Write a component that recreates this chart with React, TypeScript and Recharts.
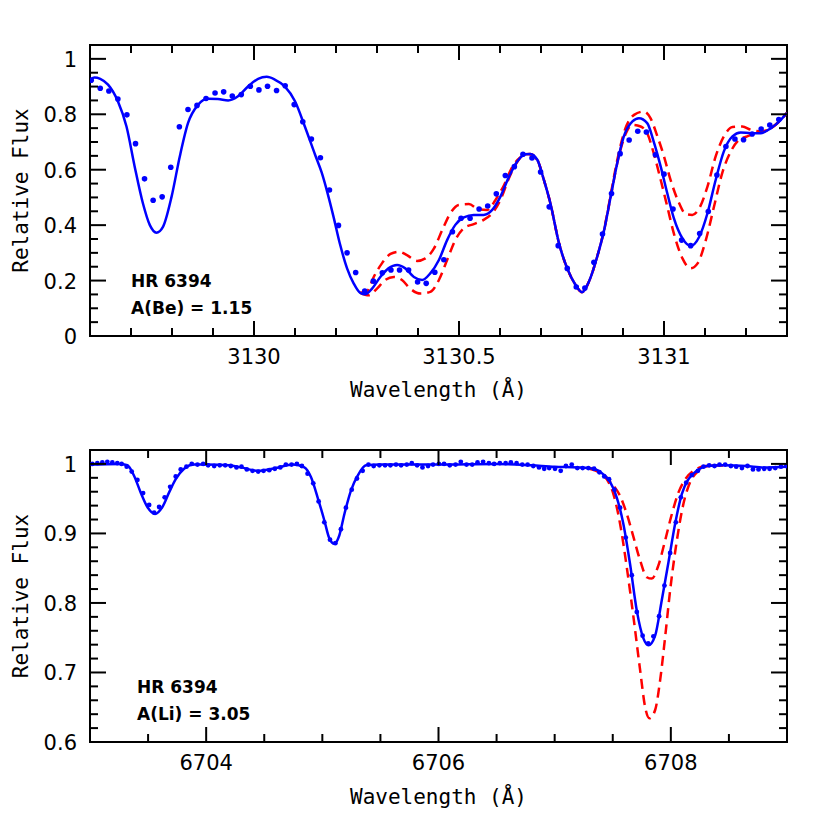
import React from 'react';
import { ComposedChart, Line, Scatter, XAxis, YAxis, ReferenceArea } from 'recharts';

// ---- Be panel (3130 A) ----
const beModel = [
  [3129.600, 0.926], [3129.611, 0.933], [3129.625, 0.928], [3129.644, 0.907], [3129.668, 0.847],
  [3129.689, 0.756], [3129.709, 0.611], [3129.729, 0.479], [3129.746, 0.400], [3129.762, 0.373],
  [3129.778, 0.394], [3129.799, 0.503], [3129.819, 0.648], [3129.839, 0.768], [3129.864, 0.835],
  [3129.888, 0.856], [3129.912, 0.855], [3129.937, 0.850], [3129.961, 0.865], [3129.986, 0.901],
  [3130.010, 0.928], [3130.031, 0.935], [3130.051, 0.925], [3130.075, 0.901], [3130.100, 0.847],
  [3130.124, 0.756], [3130.149, 0.654], [3130.165, 0.590], [3130.180, 0.512], [3130.194, 0.430],
  [3130.210, 0.330], [3130.227, 0.244], [3130.243, 0.190], [3130.259, 0.156], [3130.272, 0.151],
  [3130.288, 0.171], [3130.308, 0.213], [3130.328, 0.244], [3130.349, 0.256], [3130.369, 0.244],
  [3130.390, 0.213], [3130.410, 0.202], [3130.430, 0.226], [3130.451, 0.274], [3130.471, 0.346],
  [3130.491, 0.401], [3130.512, 0.428], [3130.536, 0.437], [3130.560, 0.437], [3130.581, 0.455],
  [3130.601, 0.503], [3130.622, 0.575], [3130.642, 0.630], [3130.662, 0.656], [3130.674, 0.657],
  [3130.691, 0.636], [3130.707, 0.563], [3130.723, 0.478], [3130.744, 0.334], [3130.764, 0.244],
  [3130.784, 0.185], [3130.800, 0.158], [3130.818, 0.200], [3130.837, 0.286], [3130.854, 0.382],
  [3130.870, 0.503], [3130.886, 0.624], [3130.902, 0.720], [3130.923, 0.774], [3130.939, 0.786],
  [3130.959, 0.768], [3130.976, 0.696], [3130.992, 0.611], [3131.008, 0.515], [3131.024, 0.425],
  [3131.045, 0.352], [3131.065, 0.325], [3131.086, 0.358], [3131.106, 0.443], [3131.126, 0.563],
  [3131.146, 0.666], [3131.167, 0.720], [3131.187, 0.734], [3131.212, 0.732], [3131.236, 0.732],
  [3131.261, 0.750], [3131.285, 0.780], [3131.300, 0.805],
];

const beLow = [
  [3130.259, 0.156], [3130.275, 0.160], [3130.292, 0.213], [3130.312, 0.262], [3130.333, 0.296],
  [3130.353, 0.304], [3130.373, 0.292], [3130.398, 0.271], [3130.418, 0.280], [3130.439, 0.316],
  [3130.459, 0.382], [3130.479, 0.443], [3130.499, 0.473], [3130.524, 0.476], [3130.548, 0.457],
  [3130.569, 0.455], [3130.589, 0.491], [3130.610, 0.545], [3130.630, 0.610], [3130.650, 0.645],
  [3130.668, 0.657], [3130.690, 0.637], [3130.707, 0.563], [3130.723, 0.478], [3130.744, 0.334],
  [3130.764, 0.244], [3130.784, 0.185], [3130.800, 0.158], [3130.818, 0.200], [3130.837, 0.286],
  [3130.854, 0.385], [3130.870, 0.510], [3130.886, 0.635], [3130.905, 0.745], [3130.927, 0.798],
  [3130.951, 0.810], [3130.967, 0.786], [3130.984, 0.720], [3131.000, 0.648], [3131.016, 0.563],
  [3131.037, 0.479], [3131.053, 0.440], [3131.069, 0.437], [3131.086, 0.461], [3131.106, 0.539],
  [3131.126, 0.648], [3131.146, 0.720], [3131.167, 0.754], [3131.191, 0.756], [3131.212, 0.744],
  [3131.236, 0.738], [3131.261, 0.750], [3131.285, 0.780], [3131.300, 0.805],
];

const beHigh = [
  [3130.259, 0.156], [3130.280, 0.147], [3130.300, 0.171], [3130.320, 0.202], [3130.341, 0.213],
  [3130.361, 0.202], [3130.381, 0.171], [3130.406, 0.153], [3130.430, 0.159], [3130.451, 0.202],
  [3130.471, 0.274], [3130.491, 0.346], [3130.512, 0.389], [3130.536, 0.404], [3130.560, 0.419],
  [3130.581, 0.443], [3130.601, 0.491], [3130.622, 0.570], [3130.642, 0.628], [3130.662, 0.656],
  [3130.674, 0.657], [3130.691, 0.636], [3130.707, 0.563], [3130.723, 0.478], [3130.744, 0.334],
  [3130.764, 0.244], [3130.784, 0.185], [3130.800, 0.158], [3130.818, 0.200], [3130.837, 0.286],
  [3130.854, 0.382], [3130.870, 0.503], [3130.886, 0.624], [3130.902, 0.712], [3130.923, 0.762],
  [3130.943, 0.756], [3130.959, 0.732], [3130.976, 0.654], [3130.992, 0.563], [3131.008, 0.467],
  [3131.024, 0.370], [3131.045, 0.280], [3131.065, 0.244], [3131.082, 0.262], [3131.102, 0.346],
  [3131.122, 0.467], [3131.142, 0.588], [3131.163, 0.666], [3131.183, 0.708], [3131.203, 0.720],
  [3131.224, 0.732], [3131.245, 0.738], [3131.261, 0.750], [3131.285, 0.780], [3131.300, 0.805],
];

const beObs = [
  [3129.603, 0.923], [3129.625, 0.894], [3129.646, 0.884], [3129.668, 0.855], [3129.690, 0.798],
  [3129.711, 0.694], [3129.733, 0.567], [3129.754, 0.490], [3129.776, 0.502], [3129.797, 0.609],
  [3129.818, 0.755], [3129.839, 0.817], [3129.861, 0.832], [3129.883, 0.857], [3129.905, 0.877],
  [3129.926, 0.881], [3129.947, 0.866], [3129.969, 0.871], [3129.991, 0.901], [3130.012, 0.888],
  [3130.033, 0.901], [3130.055, 0.886], [3130.076, 0.903], [3130.098, 0.835], [3130.119, 0.773],
  [3130.140, 0.711], [3130.162, 0.643], [3130.184, 0.527], [3130.206, 0.399], [3130.227, 0.300],
  [3130.248, 0.229], [3130.270, 0.162], [3130.291, 0.198], [3130.313, 0.228], [3130.334, 0.238],
  [3130.355, 0.238], [3130.377, 0.238], [3130.399, 0.195], [3130.420, 0.190], [3130.441, 0.230],
  [3130.463, 0.275], [3130.484, 0.376], [3130.505, 0.425], [3130.527, 0.425], [3130.549, 0.458],
  [3130.570, 0.469], [3130.591, 0.513], [3130.613, 0.579], [3130.635, 0.611], [3130.656, 0.656],
  [3130.678, 0.642], [3130.699, 0.592], [3130.720, 0.466], [3130.742, 0.326], [3130.764, 0.244],
  [3130.786, 0.177], [3130.807, 0.173], [3130.829, 0.266], [3130.850, 0.368], [3130.872, 0.514],
  [3130.893, 0.658], [3130.915, 0.707], [3130.936, 0.739], [3130.957, 0.736], [3130.979, 0.654],
  [3131.000, 0.584], [3131.022, 0.458], [3131.043, 0.346], [3131.065, 0.326], [3131.087, 0.370],
  [3131.108, 0.449], [3131.129, 0.581], [3131.151, 0.684], [3131.173, 0.711], [3131.194, 0.708],
  [3131.215, 0.729], [3131.237, 0.747], [3131.258, 0.761], [3131.280, 0.781],
];

const beXTicks = [3129.7, 3129.8, 3129.9, 3130, 3130.1, 3130.2, 3130.3, 3130.4, 3130.5, 3130.6, 3130.7, 3130.8, 3130.9, 3131, 3131.1, 3131.2];
const beXMajor = [3130, 3130.5, 3131];
const beYTicks = [0, 0.05, 0.1, 0.15, 0.2, 0.25, 0.3, 0.35, 0.4, 0.45, 0.5, 0.55, 0.6, 0.65, 0.7, 0.75, 0.8, 0.85, 0.9, 0.95, 1];
const beYMajor = [0, 0.2, 0.4, 0.6, 0.8, 1];

// ---- Li panel (6708 A) ----
const liModel = [
  [6703.000, 0.999], [6703.250, 1.000], [6703.322, 0.998], [6703.379, 0.983], [6703.436, 0.959],
  [6703.494, 0.938], [6703.560, 0.928], [6703.623, 0.938], [6703.681, 0.959], [6703.738, 0.978],
  [6703.810, 0.993], [6703.897, 0.999], [6704.000, 0.999], [6704.200, 0.998], [6704.300, 0.995],
  [6704.450, 0.990], [6704.600, 0.994], [6704.750, 0.999], [6704.845, 0.995], [6704.902, 0.981],
  [6704.959, 0.952], [6705.017, 0.919], [6705.060, 0.893], [6705.103, 0.885], [6705.146, 0.897],
  [6705.190, 0.928], [6705.247, 0.962], [6705.304, 0.983], [6705.376, 0.998], [6705.500, 0.999],
  [6706.000, 0.999], [6706.500, 1.000], [6706.800, 0.998], [6707.000, 0.996], [6707.200, 0.995],
  [6707.333, 0.993], [6707.419, 0.985], [6707.477, 0.974], [6707.534, 0.952], [6707.591, 0.914],
  [6707.649, 0.856], [6707.707, 0.789], [6707.764, 0.749], [6707.807, 0.739], [6707.865, 0.753],
  [6707.922, 0.804], [6707.980, 0.859], [6708.037, 0.914], [6708.095, 0.957], [6708.152, 0.978],
  [6708.224, 0.990], [6708.310, 0.997], [6708.450, 0.998], [6708.650, 0.997], [6708.800, 0.995],
  [6709.000, 0.996],
];

const liLow = [
  [6707.300, 0.994], [6707.420, 0.985], [6707.500, 0.970], [6707.563, 0.954], [6707.621, 0.928],
  [6707.678, 0.895], [6707.736, 0.861], [6707.793, 0.837], [6707.836, 0.835], [6707.893, 0.854],
  [6707.951, 0.890], [6708.009, 0.928], [6708.066, 0.959], [6708.124, 0.978], [6708.195, 0.990],
  [6708.300, 0.997], [6708.450, 0.998],
];

const liHigh = [
  [6707.300, 0.993], [6707.420, 0.983], [6707.460, 0.975], [6707.505, 0.957], [6707.563, 0.914],
  [6707.621, 0.851], [6707.678, 0.780], [6707.736, 0.703], [6707.779, 0.650], [6707.816, 0.634],
  [6707.865, 0.646], [6707.908, 0.689], [6707.951, 0.751], [6707.994, 0.818], [6708.052, 0.890],
  [6708.109, 0.943], [6708.167, 0.974], [6708.238, 0.990], [6708.320, 0.997], [6708.450, 0.998],
];

const liObs = [
  [6703.020, 1.000], [6703.063, 1.001], [6703.106, 1.002], [6703.149, 1.003], [6703.192, 1.002],
  [6703.235, 1.001], [6703.272, 1.000], [6703.316, 0.996], [6703.359, 0.989], [6703.408, 0.977],
  [6703.457, 0.958], [6703.509, 0.941], [6703.552, 0.930], [6703.595, 0.938], [6703.643, 0.952],
  [6703.690, 0.967], [6703.738, 0.982], [6703.781, 0.992], [6703.830, 0.996], [6703.876, 1.000],
  [6703.925, 0.999], [6703.974, 1.000], [6704.017, 0.998], [6704.069, 0.997], [6704.117, 0.998],
  [6704.164, 0.998], [6704.212, 0.997], [6704.261, 0.995], [6704.304, 0.996], [6704.350, 0.992],
  [6704.399, 0.990], [6704.448, 0.989], [6704.494, 0.990], [6704.543, 0.991], [6704.591, 0.993],
  [6704.638, 0.995], [6704.686, 0.999], [6704.735, 0.999], [6704.781, 1.000], [6704.824, 0.997],
  [6704.873, 0.986], [6704.922, 0.972], [6704.968, 0.946], [6705.017, 0.916], [6705.066, 0.891],
  [6705.112, 0.886], [6705.160, 0.906], [6705.203, 0.937], [6705.253, 0.963], [6705.298, 0.979],
  [6705.347, 0.990], [6705.397, 0.999], [6705.442, 0.997], [6705.491, 0.998], [6705.540, 0.998],
  [6705.586, 0.998], [6705.634, 0.999], [6705.678, 0.998], [6705.727, 0.999], [6705.770, 1.001],
  [6705.816, 0.998], [6705.862, 0.995], [6705.910, 0.997], [6705.953, 0.999], [6706.003, 1.000],
  [6706.048, 1.000], [6706.097, 0.998], [6706.147, 0.999], [6706.192, 1.003], [6706.241, 0.999],
  [6706.290, 0.999], [6706.336, 1.002], [6706.384, 1.003], [6706.434, 1.001], [6706.479, 1.000],
  [6706.528, 1.001], [6706.578, 1.001], [6706.623, 1.002], [6706.672, 1.001], [6706.721, 0.999],
  [6706.767, 0.999], [6706.816, 0.997], [6706.865, 0.995], [6706.910, 0.993], [6706.953, 0.994],
  [6707.003, 0.993], [6707.052, 0.990], [6707.097, 0.997], [6707.147, 0.999], [6707.195, 0.994],
  [6707.241, 0.994], [6707.290, 0.994], [6707.339, 0.993], [6707.385, 0.988], [6707.427, 0.982],
  [6707.468, 0.978], [6707.514, 0.963], [6707.563, 0.937], [6707.612, 0.894], [6707.664, 0.840],
  [6707.707, 0.787], [6707.757, 0.753], [6707.805, 0.742], [6707.850, 0.752], [6707.899, 0.781],
  [6707.945, 0.825], [6707.994, 0.872], [6708.043, 0.916], [6708.086, 0.952], [6708.132, 0.973],
  [6708.181, 0.984], [6708.233, 0.990], [6708.281, 0.996], [6708.330, 0.998], [6708.376, 0.997],
  [6708.419, 0.999], [6708.468, 0.999], [6708.517, 0.997], [6708.563, 0.996], [6708.612, 0.994],
  [6708.660, 0.997], [6708.707, 0.992], [6708.755, 0.992], [6708.804, 0.993], [6708.850, 0.993],
  [6708.899, 0.994], [6708.948, 0.996], [6708.994, 0.997],
];

const liXTicks = [6703.5, 6704, 6704.5, 6705, 6705.5, 6706, 6706.5, 6707, 6707.5, 6708, 6708.5];
const liXMajor = [6704, 6706, 6708];
const liYTicks = [0.6, 0.62, 0.64, 0.66, 0.68, 0.7, 0.72, 0.74, 0.76, 0.78, 0.8, 0.82, 0.84, 0.86, 0.88, 0.9, 0.92, 0.94, 0.96, 0.98, 1];
const liYMajor = [0.6, 0.7, 0.8, 0.9, 1];

const toXY = (arr: number[][]) => arr.map(([x, y]) => ({ x, y }));

const BLUE = '#0000ff';
const RED = '#ff0000';
const W = 830;
const H = 415;
const PLOT_W = 697;
const TICK_FONT = '"DejaVu Sans", sans-serif';
const TITLE_FONT = '"DejaVu Sans Mono", monospace';
const NOTE_FONT = '"DejaVu Sans", sans-serif';

const fmt = (v: number) => String(Number(v.toFixed(2)));
const isMajor = (majors: number[], v: number) => majors.some(m => Math.abs(m - v) < 1e-6);

function makeXTick(majors: number[], plotH: number) {
  return (props: any) => {
    const { x, y, payload } = props;
    const major = isMajor(majors, payload.value);
    const len = major ? 15 : 8;
    return (
      <g>
        <line x1={x} x2={x} y1={y} y2={y - len} stroke="#000" strokeWidth={2} />
        <line x1={x} x2={x} y1={y - plotH} y2={y - plotH + len} stroke="#000" strokeWidth={2} />
        {major && (
          <text x={x} y={y + 28} textAnchor="middle" fontFamily={TICK_FONT} fontSize={21} fill="#000">
            {fmt(payload.value)}
          </text>
        )}
      </g>
    );
  };
}

function makeYTick(majors: number[]) {
  return (props: any) => {
    const { x, y, payload } = props;
    const major = isMajor(majors, payload.value);
    const len = major ? 16 : 8;
    return (
      <g>
        <line x1={x} x2={x + len} y1={y} y2={y} stroke="#000" strokeWidth={2} />
        <line x1={x + PLOT_W} x2={x + PLOT_W - len} y1={y} y2={y} stroke="#000" strokeWidth={2} />
        {major && (
          <text x={x - 13} y={y + 8} textAnchor="end" fontFamily={TICK_FONT} fontSize={21} fill="#000">
            {fmt(payload.value)}
          </text>
        )}
      </g>
    );
  };
}

const dot = (r: number) => (props: any) => <circle cx={props.cx} cy={props.cy} r={r} fill={BLUE} />;

type PanelProps = {
  model: number[][];
  low: number[][];
  high: number[][];
  obs: number[][];
  xDomain: [number, number];
  yDomain: [number, number];
  xTicks: number[];
  xMajor: number[];
  yTicks: number[];
  yMajor: number[];
  margin: { top: number; right: number; bottom: number; left: number };
  dotR: number;
  notes: string[];
  noteY: number;
  noteX: number;
  titleY: number;
};

function Panel(p: PanelProps) {
  const plotH = H - p.margin.top - p.margin.bottom - 30;
  const midY = p.margin.top + plotH / 2;
  const plotLeft = p.margin.left + 60;
  return (
    <ComposedChart width={W} height={H} margin={p.margin}>
      <XAxis
        type="number"
        dataKey="x"
        domain={p.xDomain}
        allowDataOverflow
        ticks={p.xTicks}
        interval={0}
        height={30}
        tickSize={0}
        tickMargin={0}
        tickLine={false}
        axisLine={{ stroke: '#000', strokeWidth: 2 }}
        tick={makeXTick(p.xMajor, plotH)}
      />
      <YAxis
        type="number"
        dataKey="y"
        domain={p.yDomain}
        allowDataOverflow
        ticks={p.yTicks}
        interval={0}
        width={60}
        tickSize={0}
        tickMargin={0}
        tickLine={false}
        axisLine={{ stroke: '#000', strokeWidth: 2 }}
        tick={makeYTick(p.yMajor)}
      />
      <ReferenceArea
        x1={p.xDomain[0]}
        x2={p.xDomain[1]}
        y1={p.yDomain[0]}
        y2={p.yDomain[1]}
        fill="none"
        fillOpacity={0}
        stroke="#000"
        strokeWidth={2}
      />
      <Line data={toXY(p.low)} dataKey="y" type="monotone" stroke={RED} strokeWidth={2.5} strokeDasharray="10 6" dot={false} activeDot={false} isAnimationActive={false} />
      <Line data={toXY(p.high)} dataKey="y" type="monotone" stroke={RED} strokeWidth={2.5} strokeDasharray="10 6" dot={false} activeDot={false} isAnimationActive={false} />
      <Line data={toXY(p.model)} dataKey="y" type="monotone" stroke={BLUE} strokeWidth={2.5} dot={false} activeDot={false} isAnimationActive={false} />
      <Scatter data={toXY(p.obs)} dataKey="y" shape={dot(p.dotR)} isAnimationActive={false} />
      <text x={21} y={midY} transform={`rotate(-90 21 ${midY})`} textAnchor="middle" dominantBaseline="central" fontFamily={TITLE_FONT} fontSize={21} fill="#000">
        Relative Flux
      </text>
      <text x={plotLeft + PLOT_W / 2} y={p.titleY} textAnchor="middle" fontFamily={TITLE_FONT} fontSize={21} fill="#000">
        Wavelength (Å)
      </text>
      {p.notes.map((n, i) => (
        <text key={n} x={p.noteX} y={p.noteY + i * 27} fontFamily={NOTE_FONT} fontWeight="bold" fontSize={17} fill="#000">
          {n}
        </text>
      ))}
    </ComposedChart>
  );
}

export default function App() {
  return (
    <div style={{ position: 'absolute', left: 0, top: 0, width: W, height: 2 * H, background: '#fff' }}>
      <Panel
        model={beModel}
        low={beLow}
        high={beHigh}
        obs={beObs}
        xDomain={[3129.6, 3131.3]}
        yDomain={[0, 1.05]}
        xTicks={beXTicks}
        xMajor={beXMajor}
        yTicks={beYTicks}
        yMajor={beYMajor}
        margin={{ top: 45, right: 43, bottom: 49, left: 30 }}
        dotR={2.8}
        notes={['HR 6394', 'A(Be) = 1.15']}
        noteX={131}
        noteY={287}
        titleY={397}
      />
      <Panel
        model={liModel}
        low={liLow}
        high={liHigh}
        obs={liObs}
        xDomain={[6703, 6709]}
        yDomain={[0.6, 1.02]}
        xTicks={liXTicks}
        xMajor={liXMajor}
        yTicks={liYTicks}
        yMajor={liYMajor}
        margin={{ top: 35, right: 43, bottom: 58, left: 30 }}
        dotR={2.4}
        notes={['HR 6394', 'A(Li) = 3.05']}
        noteX={137}
        noteY={278}
        titleY={389}
      />
    </div>
  );
}
